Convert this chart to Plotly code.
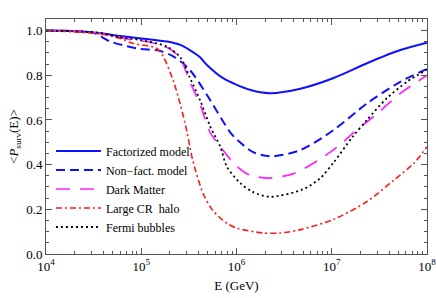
import plotly.graph_objects as go

# log10(E/GeV) sample points and survival probabilities
fact_logE = [4.0, 4.3, 4.57, 4.78, 5.0, 5.27, 5.41, 5.51, 5.62, 5.69, 5.86, 6.14, 6.35, 6.67, 7.02, 7.37, 7.72, 8.0]
fact_P    = [1.0, 0.998, 0.988, 0.976, 0.965, 0.951, 0.936, 0.913, 0.88, 0.846, 0.787, 0.735, 0.72, 0.74, 0.788, 0.854, 0.913, 0.946]

nonf_logE = [4.0, 4.3, 4.5, 4.67, 4.85, 4.99, 5.2, 5.34, 5.51, 5.69, 5.93, 6.01, 6.17, 6.35, 6.67, 7.02, 7.37, 7.72, 8.0]
nonf_P    = [1.0, 0.997, 0.99, 0.952, 0.93, 0.918, 0.909, 0.884, 0.824, 0.712, 0.547, 0.51, 0.457, 0.437, 0.465, 0.555, 0.674, 0.771, 0.829]

dm_logE = [4.0, 4.4, 4.6, 4.91, 5.09, 5.3, 5.41, 5.51, 5.62, 5.72, 5.83, 6.01, 6.14, 6.35, 6.6, 6.86, 7.09, 7.22, 7.48, 7.72, 8.0]
dm_P    = [1.0, 0.997, 0.985, 0.958, 0.948, 0.918, 0.876, 0.771, 0.667, 0.547, 0.48, 0.39, 0.353, 0.34, 0.36, 0.42, 0.49, 0.54, 0.63, 0.719, 0.80]

cr_logE = [4.0, 4.57, 4.78, 4.91, 5.16, 5.23, 5.34, 5.41, 5.48, 5.51, 5.54, 5.65, 5.75, 5.90, 6.01, 6.28, 6.46, 6.67, 7.02, 7.37, 7.65, 7.86, 8.0]
cr_P    = [1.0, 0.985, 0.965, 0.943, 0.921, 0.885, 0.771, 0.67, 0.547, 0.48, 0.42, 0.27, 0.196, 0.137, 0.115, 0.094, 0.094, 0.109, 0.155, 0.235, 0.33, 0.405, 0.48]

fb_logE = [4.0, 4.57, 4.78, 4.99, 5.27, 5.41, 5.51, 5.62, 5.72, 5.83, 5.90, 6.04, 6.17, 6.35, 6.7, 6.88, 7.02, 7.22, 7.37, 7.58, 7.79, 8.0]
fb_P    = [1.0, 0.99, 0.97, 0.958, 0.928, 0.88, 0.79, 0.686, 0.575, 0.48, 0.39, 0.317, 0.278, 0.256, 0.29, 0.34, 0.41, 0.525, 0.6, 0.698, 0.771, 0.826]

names = ["Factorized model", "Non\u2212fact. model", "Dark Matter", "Large CR  halo", "Fermi bubbles"]
series = [(fact_logE, fact_P), (nonf_logE, nonf_P), (dm_logE, dm_P), (cr_logE, cr_P), (fb_logE, fb_P)]
colors = ["#1010ff", "#1010ff", "#ff20ff", "#ff1a1a", "#000000"]
dashes = ["solid", "9px,5px", "14px,10px", "6px,3px,2px,3px", "2px,3px"]
widths = [2.0, 2.0, 1.7, 1.6, 1.8]

x_tickvals = [1e4, 1e5, 1e6, 1e7, 1e8]
x_ticktext = ["10<sup>4</sup>", "10<sup>5</sup>", "10<sup>6</sup>", "10<sup>7</sup>", "10<sup>8</sup>"]
y_tickvals = [0, 0.2, 0.4, 0.6, 0.8, 1.0]
y_ticktext = ["0.0", "0.2", "0.4", "0.6", "0.8", "1.0"]

fig = go.Figure()
for (lx, p), nm, c, d, w in zip(series, names, colors, dashes, widths):
    fig.add_trace(go.Scatter(
        x=[10 ** v for v in lx], y=p, mode="lines", name=nm,
        line=dict(color=c, dash=d, width=w, shape="spline", smoothing=0.8),
    ))

font_family = "Liberation Serif"
fig.update_layout(
    width=436, height=298,
    margin=dict(l=46, r=9, t=19, b=44),
    paper_bgcolor="white", plot_bgcolor="white",
    font=dict(family=font_family, size=13, color="black"),
    showlegend=True,
    legend=dict(x=0.013, y=0.50, xanchor="left", yanchor="top",
                bgcolor="rgba(0,0,0,0)", font=dict(size=12, family=font_family),
                itemwidth=45, tracegroupgap=0),
)
fig.update_xaxes(
    type="log", range=[4, 8], tickvals=x_tickvals, ticktext=x_ticktext,
    ticklabeloverflow="allow", automargin=False,
    showline=True, linecolor="#555", linewidth=1, mirror="allticks",
    ticks="inside", ticklen=6, tickcolor="#555",
    minor=dict(ticks="inside", ticklen=3, tickcolor="#555", showgrid=False, dtick="D1"),
    showgrid=False, zeroline=False,
    title=dict(text="E (GeV)", font=dict(size=13), standoff=8),
    tickfont=dict(size=13),
)
fig.update_yaxes(
    range=[0, 1.052], tickvals=y_tickvals, ticktext=y_ticktext, automargin=False,
    showline=True, linecolor="#555", linewidth=1, mirror="allticks",
    ticks="inside", ticklen=6, tickcolor="#555",
    minor=dict(ticks="inside", ticklen=3, tickcolor="#555", dtick=0.05, tick0=0, showgrid=False),
    showgrid=False, zeroline=False,
    title=dict(text="&lt;<i>P</i><sub>surv</sub>(E)&gt;", font=dict(size=13), standoff=4),
    tickfont=dict(size=13),
)

fig.write_html("out.html", config={"displayModeBar": False},
               post_script="document.body.style.margin='0px';")
